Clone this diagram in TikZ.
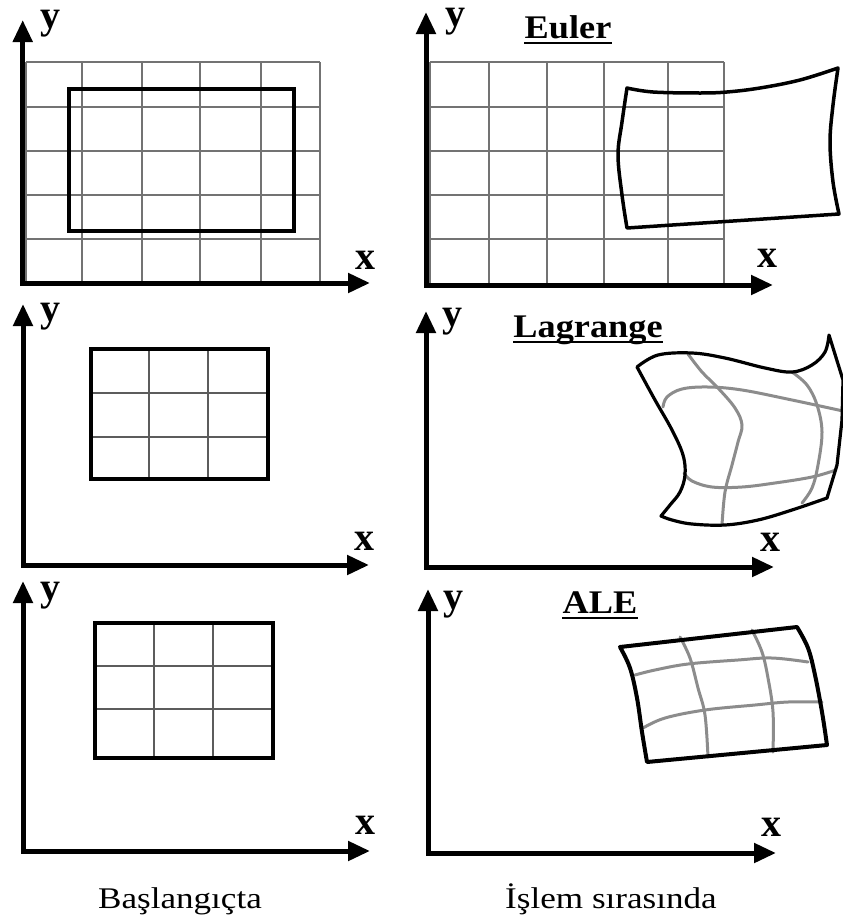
\documentclass[tikz,border=0pt]{standalone}
\usepackage{fontspec}
\setmainfont{Liberation Serif}
\usetikzlibrary{arrows.meta}
\definecolor{gridgray}{gray}{0.45}
\definecolor{meshgray}{gray}{0.55}
\begin{document}
\begin{tikzpicture}[x=1pt,y=-1pt,
  axis/.style={line width=5pt, line join=miter,
    {Triangle[length=22pt,width=19pt]}-{Triangle[length=22pt,width=19pt]}},
  axlabel/.style={inner sep=0pt, font=\fontsize{40}{44}\selectfont\bfseries},
  ttl/.style={inner sep=0pt, anchor=base, font=\fontsize{33}{36}\selectfont\bfseries},
  uline/.style={line width=2pt},
  caption/.style={inner sep=0pt, anchor=base, font=\fontsize{30}{34}\selectfont},
  gridline/.style={draw=gridgray, line width=2.8pt},
  innergrid/.style={draw=gridgray!80!black, line width=2.2pt},
  bodybox/.style={draw=black, line width=4pt},
  bodyline/.style={draw=black, line width=3.5pt, line join=round, line cap=round},
  meshline/.style={draw=meshgray, line width=3pt, line cap=round}
]
\useasboundingbox (0,0) rectangle (843,921);
\fill[white] (0,0) rectangle (843,921);

% ---------- Panel 1: Euler, initial ----------
\foreach \gx in {26,82,142,200,261,320} \draw[gridline] (\gx,62) -- (\gx,283);
\foreach \gy in {62,107,151,195,239} \draw[gridline] (26,\gy) -- (320,\gy);
\draw[bodybox] (69,89) rectangle (294,231);
\coordinate (o1) at (22.7,283);
\coordinate (y1) at (22.7,20);
\coordinate (x1) at (370,283);
\draw[axis] (y1) -- (o1) -- (x1);
\node[axlabel] (ly1) at (50,24) {y};
\node[axlabel] (lx1) at (365,260) {x};

% ---------- Panel 2: Euler, during ----------
\foreach \gx in {430,489,547,604,668,724} \draw[gridline] (\gx,62) -- (\gx,285);
\foreach \gy in {62,107,151,195,239} \draw[gridline] (430,\gy) -- (724,\gy);
\draw[bodyline]
  plot[smooth, tension=0.6] coordinates {(627,88) (653,92) (700,93) (727,92) (760,88) (800,80) (838,68)}
  -- plot[smooth, tension=0.6] coordinates {(838,68) (833,105) (830,142) (833,182) (839,214)}
  -- (627,228)
  -- plot[smooth, tension=0.6] coordinates {(627,228) (622,195) (618,155) (622,122) (627,88)}
  -- cycle;
\coordinate (o2) at (426,285);
\coordinate (y2) at (426,12);
\coordinate (x2) at (773,285);
\draw[axis] (y2) -- (o2) -- (x2);
\node[axlabel] (ly2) at (455,22) {y};
\node[axlabel] (lx2) at (767,258) {x};
\node[ttl] (euler) at (568,38) {\scalebox{1.1}[1]{Euler}};
\draw[uline] ([yshift=-5pt]euler.base west) -- ([yshift=-5pt]euler.base east);

% ---------- Panel 3: Lagrange, initial ----------
\foreach \gx in {149,208} \draw[innergrid] (\gx,349) -- (\gx,479);
\foreach \gy in {393,437} \draw[innergrid] (91,\gy) -- (268,\gy);
\draw[bodybox] (91,349) rectangle (268,479);
\coordinate (o3) at (23,565);
\coordinate (y3) at (23,304);
\coordinate (x3) at (369,565);
\draw[axis] (y3) -- (o3) -- (x3);
\node[axlabel] (ly3) at (50,317) {y};
\node[axlabel] (lx3) at (364,541) {x};

% ---------- Panel 4: Lagrange, during ----------
\draw[meshline] plot[smooth, tension=0.6] coordinates {(663,407) (667,397) (682,389) (708,387) (742,390) (792,400) (843,411)};
\draw[meshline] plot[smooth, tension=0.6] coordinates {(684,473) (692,481) (712,487) (742,487) (775,483) (812,477) (836,470)};
\draw[meshline] plot[smooth, tension=0.6] coordinates {(688,354) (702,372) (718,388) (735,408) (742,425) (738,442) (732,465) (725,492) (722,525)};
\draw[meshline] plot[smooth, tension=0.6] coordinates {(792,372) (807,385) (817,405) (822,432) (818,465) (812,488) (802,503)};
\draw[bodyline, line width=3.2pt]
  plot[smooth, tension=0.6] coordinates {(637,367) (658,355) (692,353) (725,358) (765,368) (792,372) (812,365) (825,352) (829,335)}
  -- (843,380) -- (842,420) -- (837,465) -- (827,498)
  -- plot[smooth, tension=0.6] coordinates {(827,498) (792,510) (758,520) (725,525) (692,524) (672,520) (661,516)}
  -- plot[smooth, tension=0.6] coordinates {(661,516) (670,505) (680,492) (685,475) (683,455) (672,430) (655,400) (637,367)}
  -- cycle;
\coordinate (o4) at (426,567);
\coordinate (y4) at (426,311);
\coordinate (x4) at (774,567);
\draw[axis] (y4) -- (o4) -- (x4);
\node[axlabel] (ly4) at (452,322) {y};
\node[axlabel] (lx4) at (770,542) {x};
\node[ttl] (lagrange) at (588,337) {\scalebox{1.1}[1]{Lagrange}};
\draw[uline] ([yshift=-5pt]lagrange.base west) -- ([yshift=-5pt]lagrange.base east);

% ---------- Panel 5: ALE, initial ----------
\foreach \gx in {154,213} \draw[innergrid] (\gx,623) -- (\gx,758);
\foreach \gy in {666,709} \draw[innergrid] (95,\gy) -- (273,\gy);
\draw[bodybox] (95,623) rectangle (273,758);
\coordinate (o5) at (23,851);
\coordinate (y5) at (23,581);
\coordinate (x5) at (370,851);
\draw[axis] (y5) -- (o5) -- (x5);
\node[axlabel] (ly5) at (50,596) {y};
\node[axlabel] (lx5) at (365,825) {x};

% ---------- Panel 6: ALE, during ----------
\draw[meshline] plot[smooth, tension=0.6] coordinates {(635,675) (655,670) (688,664) (738,660) (772,658) (808,662)};
\draw[meshline] plot[smooth, tension=0.6] coordinates {(643,728) (665,718) (705,710) (755,705) (788,702) (822,702)};
\draw[meshline] plot[smooth, tension=0.6] coordinates {(680,637) (690,658) (698,688) (705,715) (708,757)};
\draw[meshline] plot[smooth, tension=0.6] coordinates {(752,630) (762,652) (768,678) (773,712) (773,752)};
\draw[bodyline, line width=4pt]
  (620,647) -- (797,627)
  -- plot[smooth, tension=0.6] coordinates {(797,627) (808,648) (815,675) (822,712) (827,745)}
  -- (647,762)
  -- plot[smooth, tension=0.6] coordinates {(647,762) (642,732) (637,698) (630,668) (620,647)}
  -- cycle;
\coordinate (o6) at (428,853);
\coordinate (y6) at (428,589);
\coordinate (x6) at (776,853);
\draw[axis] (y6) -- (o6) -- (x6);
\node[axlabel] (ly6) at (453,605) {y};
\node[axlabel] (lx6) at (771,827) {x};
\node[ttl] (ale) at (600,613) {\scalebox{1.1}[1]{ALE}};
\draw[uline] ([yshift=-5pt]ale.base west) -- ([yshift=-5pt]ale.base east);

% ---------- Captions ----------
\node[caption] (cap1) at (180,908) {\scalebox{1.17}[1]{Başlangıçta}};
\node[caption] (cap2) at (611,908) {\scalebox{1.17}[1]{İşlem sırasında}};
\end{tikzpicture}
\end{document}
